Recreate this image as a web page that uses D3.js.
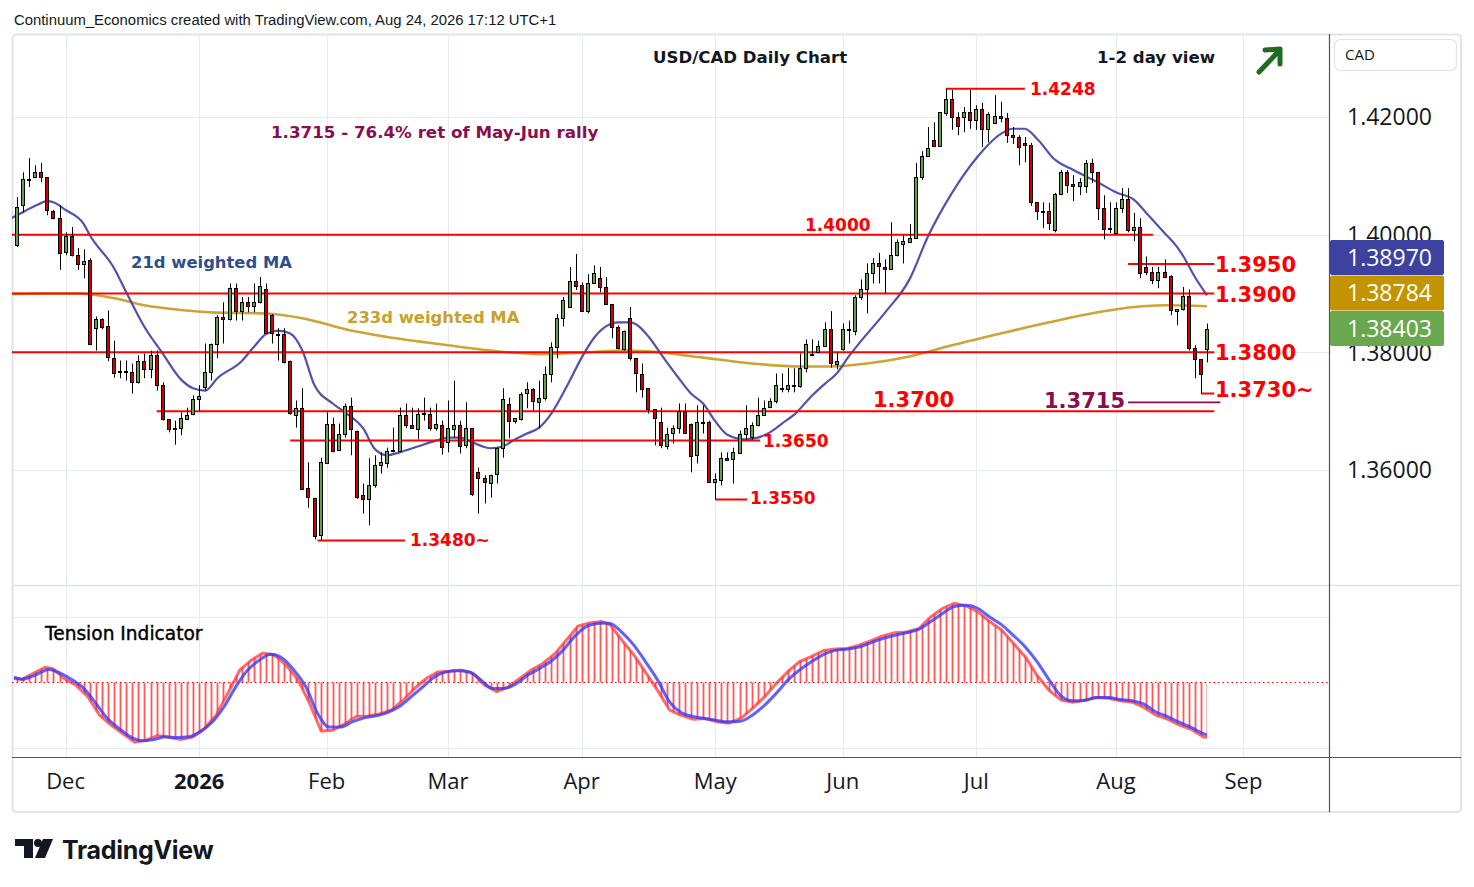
<!DOCTYPE html>
<html><head><meta charset="utf-8">
<script src="https://cdn.jsdelivr.net/npm/d3@7/dist/d3.min.js"></script>
<style>
html,body{margin:0;padding:0;background:#fff;}
svg{display:block;}
</style>
</head><body>
<svg id="chart" width="1474" height="887"></svg>
<script>
// ---------------- DATA ----------------
const firstBarDate = "2025-11-19";
const opens = [1.3982,1.4049,1.4094,1.4098,1.4106,1.4098,1.4040,1.4028,1.3969,1.3997,
1.3965,1.3950,1.3957,1.3841,1.3856,1.3844,1.3791,1.3769,1.3769,1.3766,
1.3749,1.3785,1.3771,1.3795,1.3744,1.3686,1.3671,1.3671,1.3688,1.3694,
1.3720,1.3740,1.3766,1.3814,1.3860,1.3856,1.3909,1.3870,1.3885,1.3878,
1.3885,1.3907,1.3863,1.3832,1.3832,1.3785,1.3694,1.3706,1.3569,1.3553,
1.3489,1.3613,1.3679,1.3635,1.3660,1.3708,1.3667,1.3557,1.3550,1.3574,
1.3608,1.3613,1.3633,1.3633,1.3694,1.3677,1.3671,1.3696,1.3696,1.3672,
1.3677,1.3647,1.3671,1.3677,1.3642,1.3671,1.3596,1.3586,1.3579,1.3592,
1.3637,1.3713,1.3683,1.3688,1.3730,1.3737,1.3717,1.3722,1.3763,1.3809,
1.3858,1.3877,1.3921,1.3914,1.3870,1.3917,1.3926,1.3911,1.3882,1.3843,
1.3807,1.3858,1.3790,1.3764,1.3739,1.3703,1.3681,1.3642,1.3662,1.3671,
1.3700,1.3679,1.3625,1.3681,1.3681,1.3579,1.3584,1.3621,1.3618,1.3630,
1.3662,1.3657,1.3677,1.3694,1.3706,1.3717,1.3739,1.3737,1.3744,1.3744,
1.3774,1.3798,1.3800,1.3810,1.3839,1.3781,1.3805,1.3839,1.3837,1.3894,
1.3907,1.3934,1.3951,1.3945,1.3941,1.3965,1.3984,1.3987,1.3994,1.4098,
1.4134,1.4161,1.4151,1.4208,1.4231,1.4200,1.4200,1.4208,1.4195,1.4214,
1.4180,1.4190,1.4202,1.4198,1.4169,1.4166,1.4156,1.4152,1.4055,1.4040,
1.4040,1.4008,1.4069,1.4106,1.4086,1.4083,1.4083,1.4122,1.4106,1.4045,
1.4011,1.4003,1.4045,1.4060,1.4008,1.4013,1.3945,1.3936,1.3923,1.3936,
1.3929,1.3870,1.3873,1.3895,1.3807,1.3788,1.3807];
const highs = [1.4064,1.4106,1.4130,1.4118,1.4122,1.4098,1.4042,1.4050,1.4004,1.4013,
1.3977,1.3975,1.3960,1.3861,1.3858,1.3871,1.3820,1.3786,1.3786,1.3781,
1.3795,1.3798,1.3803,1.3803,1.3749,1.3686,1.3684,1.3698,1.3706,1.3727,
1.3744,1.3815,1.3815,1.3863,1.3885,1.3917,1.3917,1.3894,1.3894,1.3917,
1.3928,1.3917,1.3865,1.3841,1.3841,1.3786,1.3718,1.3739,1.3613,1.3553,
1.3621,1.3698,1.3689,1.3679,1.3713,1.3723,1.3667,1.3577,1.3620,1.3625,
1.3630,1.3638,1.3672,1.3706,1.3713,1.3706,1.3705,1.3723,1.3706,1.3713,
1.3684,1.3718,1.3752,1.3684,1.3715,1.3671,1.3604,1.3591,1.3592,1.3638,
1.3739,1.3723,1.3688,1.3732,1.3749,1.3739,1.3752,1.3776,1.3817,1.3865,
1.3894,1.3945,1.3967,1.3919,1.3933,1.3948,1.3945,1.3928,1.3882,1.3846,
1.3837,1.3877,1.3790,1.3781,1.3739,1.3703,1.3706,1.3672,1.3676,1.3713,
1.3713,1.3679,1.3710,1.3710,1.3684,1.3594,1.3630,1.3630,1.3638,1.3667,
1.3710,1.3681,1.3723,1.3718,1.3722,1.3764,1.3764,1.3773,1.3773,1.3798,
1.3822,1.3822,1.3820,1.3851,1.3870,1.3800,1.3849,1.3854,1.3897,1.3924,
1.3951,1.3960,1.3969,1.3958,1.4021,1.3992,1.3999,1.4018,1.4122,1.4142,
1.4183,1.4191,1.4208,1.4248,1.4246,1.4208,1.4217,1.4246,1.4220,1.4224,
1.4208,1.4237,1.4226,1.4207,1.4183,1.4169,1.4166,1.4156,1.4055,1.4055,
1.4054,1.4071,1.4110,1.4110,1.4101,1.4096,1.4127,1.4129,1.4106,1.4067,
1.4055,1.4055,1.4079,1.4079,1.4037,1.4028,1.3963,1.3945,1.3945,1.3958,
1.3931,1.3873,1.3911,1.3907,1.3812,1.3788,1.3849];
const lows = [1.3979,1.4038,1.4081,1.4096,1.4089,1.4033,1.4026,1.3940,1.3965,1.3963,
1.3940,1.3926,1.3812,1.3803,1.3839,1.3785,1.3757,1.3756,1.3752,1.3730,
1.3747,1.3756,1.3756,1.3735,1.3684,1.3664,1.3643,1.3659,1.3686,1.3693,
1.3701,1.3735,1.3752,1.3790,1.3815,1.3854,1.3854,1.3854,1.3868,1.3868,
1.3883,1.3831,1.3815,1.3786,1.3781,1.3694,1.3672,1.3567,1.3536,1.3482,
1.3480,1.3611,1.3630,1.3633,1.3655,1.3625,1.3551,1.3526,1.3506,1.3570,
1.3594,1.3604,1.3630,1.3633,1.3671,1.3671,1.3652,1.3684,1.3667,1.3667,
1.3626,1.3630,1.3655,1.3628,1.3637,1.3556,1.3526,1.3543,1.3553,1.3577,
1.3621,1.3654,1.3679,1.3684,1.3705,1.3701,1.3671,1.3718,1.3749,1.3790,
1.3844,1.3877,1.3906,1.3870,1.3866,1.3916,1.3902,1.3882,1.3824,1.3805,
1.3803,1.3786,1.3732,1.3723,1.3696,1.3642,1.3637,1.3635,1.3645,1.3662,
1.3662,1.3596,1.3611,1.3662,1.3579,1.3550,1.3574,1.3616,1.3577,1.3628,
1.3652,1.3652,1.3674,1.3693,1.3705,1.3713,1.3732,1.3732,1.3732,1.3740,
1.3766,1.3795,1.3798,1.3809,1.3774,1.3771,1.3803,1.3815,1.3829,1.3889,
1.3866,1.3917,1.3917,1.3900,1.3940,1.3963,1.3951,1.3986,1.3994,1.4093,
1.4134,1.4149,1.4151,1.4202,1.4178,1.4169,1.4174,1.4180,1.4178,1.4149,
1.4157,1.4190,1.4191,1.4156,1.4154,1.4118,1.4123,1.4049,1.4025,1.4011,
1.4008,1.4004,1.4067,1.4071,1.4057,1.4067,1.4071,1.4088,1.4025,1.3992,
1.4003,1.4003,1.4037,1.4004,1.3989,1.3926,1.3931,1.3916,1.3909,1.3926,
1.3863,1.3846,1.3871,1.3803,1.3756,1.3730,1.3783];
const closes = [1.4047,1.4094,1.4093,1.4106,1.4098,1.4042,1.4028,1.3969,1.3997,1.3965,
1.3950,1.3955,1.3814,1.3856,1.3843,1.3791,1.3766,1.3768,1.3769,1.3749,
1.3785,1.3771,1.3795,1.3744,1.3686,1.3669,1.3671,1.3688,1.3694,1.3720,
1.3725,1.3766,1.3814,1.3860,1.3856,1.3909,1.3870,1.3885,1.3878,1.3885,
1.3912,1.3832,1.3832,1.3832,1.3785,1.3696,1.3706,1.3569,1.3553,1.3489,
1.3613,1.3679,1.3633,1.3662,1.3708,1.3669,1.3555,1.3550,1.3574,1.3608,
1.3613,1.3633,1.3634,1.3694,1.3677,1.3672,1.3696,1.3697,1.3672,1.3679,
1.3640,1.3671,1.3677,1.3642,1.3671,1.3558,1.3586,1.3579,1.3592,1.3637,
1.3720,1.3684,1.3688,1.3730,1.3737,1.3717,1.3723,1.3763,1.3809,1.3858,
1.3889,1.3921,1.3912,1.3870,1.3917,1.3934,1.3911,1.3882,1.3843,1.3807,
1.3837,1.3790,1.3764,1.3739,1.3703,1.3688,1.3642,1.3662,1.3671,1.3700,
1.3662,1.3625,1.3681,1.3682,1.3579,1.3584,1.3621,1.3618,1.3630,1.3662,
1.3672,1.3677,1.3694,1.3706,1.3717,1.3744,1.3740,1.3744,1.3745,1.3774,
1.3814,1.3798,1.3810,1.3839,1.3781,1.3786,1.3839,1.3839,1.3894,1.3907,
1.3934,1.3951,1.3946,1.3941,1.3965,1.3987,1.3989,1.3994,1.4098,1.4134,
1.4147,1.4151,1.4208,1.4231,1.4200,1.4185,1.4208,1.4195,1.4214,1.4180,
1.4205,1.4202,1.4198,1.4169,1.4166,1.4149,1.4152,1.4055,1.4040,1.4039,
1.4020,1.4069,1.4106,1.4084,1.4083,1.4089,1.4122,1.4106,1.4045,1.4009,
1.4010,1.4045,1.4060,1.4008,1.4013,1.3934,1.3936,1.3923,1.3936,1.3928,
1.3871,1.3873,1.3895,1.3807,1.3788,1.3763,1.38403];

// 21d weighted MA (bar index, value)
const ma21Idx = [-1,0,3,5,6,8,11,12,16,18,21,24,27,29,31,33,37,39,41,43,45,47,49,52,54,57,59,61,63,66,69,71,73,75,78,80,82,84,86,88,91,93,95,97,99,101,104,106,109,111,113,115,117,120,122,124,126,128,131,133,135,137,139,143,147,150,154,158,162,164,166,168,171,174,178,181,184,186,189,191,192,194,196];
const ma21Val = [1.4028,1.4033,1.4049,1.4057,1.4055,1.4042,1.4018,1.3999,1.3943,1.3902,1.3843,1.3798,1.3754,1.3739,1.3735,1.3756,1.3785,1.3809,1.3831,1.3837,1.3832,1.3803,1.3744,1.3713,1.3698,1.3671,1.3635,1.3625,1.3630,1.3640,1.3650,1.3655,1.3655,1.3647,1.3637,1.3640,1.3652,1.3662,1.3672,1.3696,1.3751,1.3791,1.3824,1.3844,1.3851,1.3851,1.3827,1.3798,1.3756,1.3730,1.3713,1.3683,1.3660,1.3652,1.3655,1.3664,1.3679,1.3694,1.3727,1.3746,1.3764,1.3793,1.3819,1.3868,1.3924,1.3996,1.4071,1.4130,1.4171,1.4180,1.4180,1.4163,1.4127,1.4110,1.4089,1.4072,1.4059,1.4037,1.4003,1.3980,1.3965,1.3928,1.38970];
// 233d weighted MA
const ma233Idx = [-1,5,10,16,21,27,32,41,47,55,61,71,78,86,94,100,106,113,121,129,134,140,147,154,162,170,178,184,189,196];
const ma233Val = [1.3899,1.3900,1.3900,1.3892,1.3880,1.3872,1.3868,1.3866,1.3858,1.3837,1.3826,1.3812,1.3803,1.3797,1.3800,1.3803,1.3800,1.3791,1.3781,1.3776,1.3776,1.3781,1.3793,1.3812,1.3832,1.3851,1.3868,1.3877,1.3880,1.38784];

// Tension indicator (red) and its signal (blue)
const tensionIdx = [-0.5,0.8,2.7,4.6,5.9,7.8,9.7,11.7,13.6,15.5,17.4,19.4,21.3,23.2,25.1,27.0,29.0,30.9,32.8,34.7,36.7,38.6,40.5,42.4,44.4,46.3,48.2,50.1,52.0,54.0,55.9,57.8,59.7,61.7,63.6,65.5,67.4,69.3,71.3,73.2,75.1,77.0,79.0,80.9,82.8,84.7,86.6,88.6,90.5,92.4,94.3,96.3,
97.7,99.6,101.6,103.5,105.5,107.5,109.4,111.4,113.3,115.3,117.2,119.2,121.1,123.1,125.0,127.0,128.9,130.9,132.9,134.8,136.8,138.7,140.7,142.6,144.6,146.5,148.5,150.5,152.4,154.4,156.3,158.3,160.2,162.2,164.1,166.1,168.0,170.0,172.0,173.9,175.9,177.8,179.8,181.7,183.7,185.6,187.6,189.5,191.5,193.5,195.4,196];
const tensionVal = [0.06,0.05,0.14,0.23,0.21,0.06,-0.04,-0.22,-0.50,-0.65,-0.78,-0.91,-0.88,-0.81,-0.84,-0.87,-0.83,-0.70,-0.50,-0.17,0.19,0.34,0.45,0.42,0.26,0.04,-0.32,-0.74,-0.73,-0.63,-0.52,-0.51,-0.48,-0.42,-0.27,-0.09,0.06,0.16,0.17,0.19,0.14,-0.04,-0.14,-0.07,0.06,0.19,0.29,0.44,0.65,0.86,0.91,0.93,
0.88,0.65,0.42,0.16,-0.12,-0.42,-0.50,-0.56,-0.55,-0.60,-0.62,-0.55,-0.40,-0.22,-0.02,0.17,0.32,0.40,0.49,0.51,0.52,0.57,0.64,0.71,0.76,0.77,0.82,1.00,1.13,1.21,1.17,1.08,0.93,0.80,0.60,0.39,0.11,-0.12,-0.27,-0.30,-0.27,-0.23,-0.24,-0.28,-0.30,-0.38,-0.50,-0.56,-0.65,-0.72,-0.83,-0.84];
const signalIdx = [-0.5,0.8,2.7,5.3,7.2,9.1,11.0,13.0,14.9,16.8,18.7,20.6,22.6,24.5,26.4,28.3,30.2,32.2,34.1,36.0,38.0,39.9,41.8,43.7,45.6,47.6,49.5,51.4,53.3,55.2,57.2,59.1,61.0,62.9,64.9,66.8,68.7,70.6,72.5,74.5,76.4,78.3,80.2,82.2,84.1,86.0,87.9,89.9,91.8,93.7,95.6,96.9,
97.7,99.6,101.6,103.5,105.5,107.5,109.4,111.4,113.3,115.3,117.2,119.2,121.1,123.1,125.0,127.0,128.9,130.9,132.9,134.8,136.8,138.7,140.7,142.6,144.6,146.5,148.5,150.5,152.4,154.4,156.3,158.3,160.2,162.2,164.1,166.1,168.0,170.0,172.0,173.9,175.9,177.8,179.8,181.7,183.7,185.6,187.6,189.5,191.5,193.5,195.4,196];
const signalVal = [0.08,0.05,0.10,0.20,0.14,0.04,-0.09,-0.32,-0.55,-0.70,-0.83,-0.89,-0.87,-0.83,-0.84,-0.83,-0.75,-0.60,-0.37,-0.07,0.19,0.34,0.43,0.37,0.19,-0.07,-0.47,-0.68,-0.68,-0.60,-0.54,-0.51,-0.46,-0.37,-0.22,-0.07,0.08,0.16,0.18,0.16,0.04,-0.09,-0.09,-0.02,0.11,0.21,0.32,0.49,0.70,0.85,0.90,0.91,
0.90,0.77,0.57,0.32,0.04,-0.30,-0.46,-0.52,-0.55,-0.58,-0.60,-0.59,-0.50,-0.35,-0.17,0.04,0.19,0.32,0.43,0.49,0.51,0.54,0.61,0.67,0.72,0.76,0.81,0.93,1.05,1.16,1.18,1.13,1.00,0.88,0.72,0.54,0.32,0.04,-0.21,-0.28,-0.27,-0.23,-0.23,-0.26,-0.28,-0.33,-0.45,-0.52,-0.61,-0.69,-0.78,-0.80];

// axis ticks
const monthTickIdx = [8,30,51,71,93,115,136,158,181,202];
const monthTickLabels = ["Dec","2026","Feb","Mar","Apr","May","Jun","Jul","Aug","Sep"];
const priceTicks = [1.42,1.40,1.38,1.36];

// support / resistance levels
const levelPrices = [1.4248,1.4000,1.3950,1.3900,1.3800,1.3730,1.3715,1.3700,1.3650,1.3550,1.3480];
const levelLabels = ["1.4248","1.4000","1.3950","1.3900","1.3800","1.3730~","1.3715","1.3700","1.3650","1.3550","1.3480~"];

// ---------------- LAYOUT ----------------
const svg = d3.select("#chart");
const PL=12, PR=1329, PT=34, MB=585, IB=757, FR=1461, FB=812;
const x = d3.scaleLinear().domain([0,196]).range([17,1207]);
const y = d3.scaleLinear().domain([1.36,1.42]).range([470,117]);
const yi = d3.scaleLinear().domain([-1,1]).range([748,617]);

const GRID="#e6ebf2", FRAME="#e0e3eb", AXIS="#50535e", TXT="#131722";
const UI = "'Open Sans','Noto Sans',sans-serif";
const ANN = "'DejaVu Sans',Verdana,sans-serif";

// per-level layout: line start/end index (null = pane edge), label placement
const levelLayout = [
  {from:153, to:166, lx:1030, ly:89, size:17, anchor:"start", color:"#ff0000", w:2},
  {from:null, to:187.1, lx:805, ly:225, size:17, anchor:"start", color:"#ff0000", w:2},
  {from:183, to:197.2, lx:1215, ly:264, size:21, anchor:"start", color:"#ff0000", w:2},
  {from:null, to:197.2, lx:1215, ly:294, size:21, anchor:"start", color:"#ff0000", w:2},
  {from:null, to:197.2, lx:1215, ly:352, size:21, anchor:"start", color:"#ff0000", w:2},
  {from:195, to:197.2, lx:1215, ly:389, size:21, anchor:"start", color:"#ff0000", w:2},
  {from:183, to:198.2, lx:1125, ly:400, size:21, anchor:"end", color:"#880e4f", w:1.6},
  {from:23, to:197.2, lx:873, ly:399, size:21, anchor:"start", color:"#ff0000", w:2},
  {from:45, to:122.4, lx:763, ly:441, size:17, anchor:"start", color:"#ff0000", w:2},
  {from:115, to:120.3, lx:750, ly:498, size:17, anchor:"start", color:"#ff0000", w:2},
  {from:49.5, to:63.9, lx:410, ly:540, size:17, anchor:"start", color:"#ff0000", w:2}
];

svg.append("rect").attr("width",1474).attr("height",887).attr("fill","#fff");

// header
svg.append("text").attr("x",14).attr("y",20).attr("dy","0.35em")
  .attr("font-family","'Liberation Sans',Arial,sans-serif").attr("font-size",14.85).attr("fill",TXT)
  .text("Continuum_Economics created with TradingView.com, Aug 24, 2026 17:12 UTC+1");

// frame
svg.append("rect").attr("x",12.5).attr("y",34.5).attr("width",FR-12.5).attr("height",FB-34.5)
  .attr("rx",4).attr("fill","none").attr("stroke",FRAME).attr("stroke-width",2);

const defs = svg.append("defs");
defs.append("clipPath").attr("id","mainClip").append("rect")
  .attr("x",PL).attr("y",PT).attr("width",PR-PL).attr("height",MB-PT);
defs.append("clipPath").attr("id","indClip").append("rect")
  .attr("x",PL).attr("y",MB).attr("width",PR-PL).attr("height",IB-MB);

// grid
const grid = svg.append("g");
monthTickIdx.forEach(i=>{
  const xx = Math.round(x(i))+0.5;
  if (xx<PR) grid.append("line").attr("x1",xx).attr("x2",xx).attr("y1",PT).attr("y2",IB)
    .attr("stroke",GRID).attr("stroke-width",1);
});
priceTicks.forEach(p=>{
  const yy = Math.round(y(p))+0.5;
  grid.append("line").attr("x1",PL).attr("x2",PR).attr("y1",yy).attr("y2",yy).attr("stroke",GRID);
});
[1,-1].forEach(v=>{
  const yy = Math.round(yi(v))+0.5;
  grid.append("line").attr("x1",PL).attr("x2",PR).attr("y1",yy).attr("y2",yy).attr("stroke",GRID);
});
// pane separator
svg.append("line").attr("x1",PL).attr("x2",FR).attr("y1",MB+0.5).attr("y2",MB+0.5).attr("stroke",FRAME).attr("stroke-width",1.5);

// ---------------- MAIN PANE ----------------
const main = svg.append("g").attr("clip-path","url(#mainClip)");

// MAs
const lineGen = d3.line().x(d=>x(d[0])).y(d=>y(d[1])).curve(d3.curveMonotoneX);
main.append("path").datum(ma233Idx.map((d,k)=>[d,ma233Val[k]]))
  .attr("d",lineGen).attr("fill","none").attr("stroke","#c9a02a").attr("stroke-width",2.6).attr("stroke-opacity",0.95);
main.append("path").datum(ma21Idx.map((d,k)=>[d,ma21Val[k]]))
  .attr("d",lineGen).attr("fill","none").attr("stroke","#3f3fa3").attr("stroke-width",2.2).attr("stroke-opacity",0.9);

// levels
levelPrices.forEach((p,k)=>{
  const L = levelLayout[k];
  const x1 = L.from===null ? PL : x(L.from);
  const x2 = x(L.to);
  const yy = y(p);
  main.append("line").attr("x1",x1).attr("x2",x2).attr("y1",yy).attr("y2",yy)
    .attr("stroke",L.color).attr("stroke-width",L.w);
});

// candles
const bars = opens.map((o,i)=>({i,o,h:highs[i],l:lows[i],c:closes[i]}));
const cg = main.append("g");
bars.forEach(b=>{
  const cx = Math.round(x(b.i));
  cg.append("line").attr("x1",cx+0.5).attr("x2",cx+0.5).attr("y1",y(b.h)).attr("y2",y(b.l))
    .attr("stroke","#000").attr("stroke-width",1);
  const top = y(Math.max(b.o,b.c)), bot = y(Math.min(b.o,b.c));
  const t = Math.round(top)+0.5;
  const hgt = Math.max(1, Math.round(bot-top));
  cg.append("rect").attr("x",cx-1.5).attr("y",t).attr("width",3).attr("height",hgt)
    .attr("fill", b.c>=b.o ? "#64a14a" : "#d10000").attr("stroke","#000").attr("stroke-width",1);
});

// level labels
levelPrices.forEach((p,k)=>{
  const L = levelLayout[k];
  main.append("text").attr("x",L.lx).attr("y",L.ly).attr("dy","0.36em")
    .attr("text-anchor",L.anchor).attr("font-family",ANN).attr("font-weight","bold")
    .attr("font-size",L.size).attr("fill",L.color).text(levelLabels[k]);
});

// annotations
function ann(tx,xx,yy,size,color,weight){
  return svg.append("text").attr("x",xx).attr("y",yy).attr("dy","0.36em")
    .attr("font-family",ANN).attr("font-weight",weight||"bold").attr("font-size",size).attr("fill",color).text(tx);
}
ann("USD/CAD Daily Chart",653,57,16.6,"#131722");
ann("1-2 day view",1097,57,16.6,"#131722");
ann("1.3715 - 76.4% ret of May-Jun rally",271,132,16.7,"#880e4f");
ann("21d weighted MA",131,262,16.4,"#2d4f8e");
ann("233d weighted MA",347,317,16.4,"#c9a02a");

// green arrow
const ar = svg.append("g").attr("stroke","#1f6b22").attr("stroke-width",5).attr("stroke-linecap","round").attr("stroke-linejoin","round").attr("fill","none");
ar.append("line").attr("x1",1259).attr("y1",72).attr("x2",1279).attr("y2",51);
ar.append("polyline").attr("points","1265,50 1280,49 1280,64");

// ---------------- INDICATOR ----------------
const ind = svg.append("g").attr("clip-path","url(#indClip)");
const tPts = tensionIdx.map((d,k)=>[d,tensionVal[k]]);
const sPts = signalIdx.map((d,k)=>[d,signalVal[k]]);
const area = d3.area().x(d=>x(d[0])).y0(yi(0)).y1(d=>yi(d[1])).curve(d3.curveLinear);
defs.append("clipPath").attr("id","tensArea").append("path").datum(tPts).attr("d",area);
const hb = ind.append("g").attr("clip-path","url(#tensArea)");
bars.forEach(b=>{
  const xx = Math.round(x(b.i))+0.5;
  hb.append("line").attr("x1",xx).attr("x2",xx).attr("y1",yi(1.6)).attr("y2",yi(-1.6))
    .attr("stroke","#ff3b3b").attr("stroke-opacity",0.85).attr("stroke-width",1.8);
});
// zero line dotted
ind.append("line").attr("x1",PL).attr("x2",PR).attr("y1",yi(0)).attr("y2",yi(0))
  .attr("stroke","#ff0000").attr("stroke-width",1.2).attr("stroke-dasharray","1.5,3");
ind.append("path").datum(tPts).attr("d",d3.line().x(d=>x(d[0])).y(d=>yi(d[1])).curve(d3.curveLinear)).attr("fill","none")
  .attr("stroke","#ff2a2a").attr("stroke-opacity",0.7).attr("stroke-width",3);
ind.append("path").datum(sPts).attr("d",d3.line().x(d=>x(d[0])).y(d=>yi(d[1])).curve(d3.curveMonotoneX)).attr("fill","none")
  .attr("stroke","#3a3aff").attr("stroke-opacity",0.8).attr("stroke-width",3);
svg.append("text").attr("x",45).attr("y",633).attr("dy","0.36em").attr("font-family",ANN)
  .attr("font-size",18.6).attr("fill","#000").attr("stroke","#000").attr("stroke-width",0.4).text("Tension Indicator");

// ---------------- AXES ----------------
svg.append("line").attr("x1",PL).attr("x2",FR).attr("y1",IB+0.5).attr("y2",IB+0.5).attr("stroke",AXIS).attr("stroke-width",1.2);
svg.append("line").attr("x1",PR+0.5).attr("x2",PR+0.5).attr("y1",PT).attr("y2",FB).attr("stroke",AXIS).attr("stroke-width",1.2);

monthTickIdx.forEach((i,k)=>{
  svg.append("text").attr("x",x(i)).attr("y",781).attr("dy","0.36em").attr("text-anchor","middle")
    .attr("font-family",UI).attr("font-size",22).attr("font-weight",monthTickLabels[k]==="2026"?"bold":"normal")
    .attr("fill",TXT).text(monthTickLabels[k]);
});

const fmt = d3.format(".5f");
// last-value tags (stacked upward from the last close)
const tags = [
  {v: closes[closes.length-1], color:"#6aa84f"},
  {v: ma233Val[ma233Val.length-1], color:"#c49400"},
  {v: ma21Val[ma21Val.length-1], color:"#3d42a0"}
];
let prevY = null;
tags.forEach(t=>{
  let cy = y(t.v);
  if (prevY!==null && cy > prevY - 35.5) cy = prevY - 35.5;
  prevY = cy;
  t.cy = cy;
});
const tagTop = d3.min(tags, t=>t.cy) - 17.5, tagBot = d3.max(tags, t=>t.cy) + 17.5;

// price axis labels; the parts hidden behind the value tags are clipped away
defs.append("clipPath").attr("id","axTop").append("rect").attr("x",PR).attr("y",PT).attr("width",FR-PR).attr("height",tagTop-PT);
defs.append("clipPath").attr("id","axBot").append("rect").attr("x",PR).attr("y",tagBot).attr("width",FR-PR).attr("height",IB-tagBot);
priceTicks.forEach(p=>{
  const yy = y(p);
  const clip = yy < (tagTop+tagBot)/2 ? "url(#axTop)" : "url(#axBot)";
  svg.append("g").attr("clip-path",clip).append("text").attr("x",1347).attr("y",yy).attr("dy","0.36em")
    .attr("font-family",UI).attr("font-size",23).attr("fill",TXT).text(fmt(p));
});

tags.forEach(t=>{
  svg.append("rect").attr("x",1330).attr("y",t.cy-17.5).attr("width",114).attr("height",35).attr("rx",2).attr("fill",t.color);
  svg.append("text").attr("x",1347).attr("y",t.cy).attr("dy","0.36em").attr("font-family",UI).attr("font-size",23)
    .attr("fill","#fff").text(fmt(t.v));
});

// CAD box
svg.append("rect").attr("x",1334.5).attr("y",39.5).attr("width",122).attr("height",31).attr("rx",6)
  .attr("fill","#fff").attr("stroke",FRAME).attr("stroke-width",1.2);
svg.append("text").attr("x",1345).attr("y",55).attr("dy","0.36em").attr("font-family",UI).attr("font-size",15).attr("fill",TXT).text("CAD");

// TradingView logo
const lg = svg.append("g").attr("fill","#131722");
lg.append("path").attr("d","M15,839 H33 V858 H24 V846 H15 Z");
lg.append("circle").attr("cx",38).attr("cy",843).attr("r",4);
lg.append("path").attr("d","M43,839 H53 L45,858 H35 Z");
svg.append("text").attr("x",62).attr("y",850).attr("dy","0.36em").attr("font-family","Inter,'Open Sans',sans-serif")
  .attr("font-weight","bold").attr("font-size",25).attr("fill","#131722").attr("letter-spacing","-0.3").text("TradingView");
</script>
</body></html>
